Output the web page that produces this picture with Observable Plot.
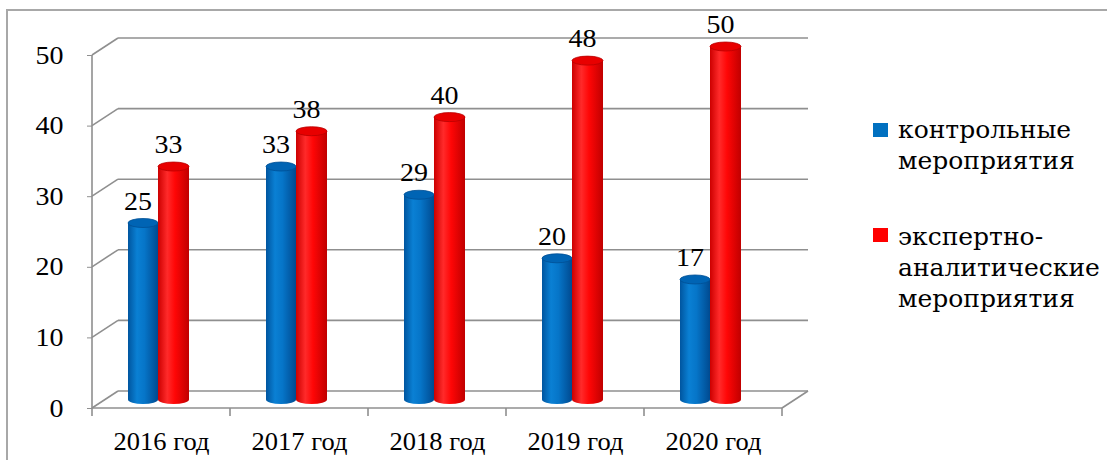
<!DOCTYPE html>
<html><head><meta charset="utf-8">
<script src="https://cdn.jsdelivr.net/npm/d3@7"></script>
<script src="https://cdn.jsdelivr.net/npm/@observablehq/plot@0.6"></script>
<style>
html,body{margin:0;padding:0;background:#fff;}
#chart svg{display:block;}
</style></head><body><div id="chart"></div>
<script>
const years = ["2016 год","2017 год","2018 год","2019 год","2020 год"];
const control = [25, 33, 29, 20, 17];
const expert = [33, 38, 40, 48, 50];
const yTicks = [0, 10, 20, 30, 40, 50];
const legendLines = [["контрольные", "мероприятия"], ["экспертно-", "аналитические", "мероприятия"]];
const colors = ["#0070C0", "#FF0000"];

const data = years.flatMap((y, i) => [
  {year: y, series: 0, value: control[i]},
  {year: y, series: 1, value: expert[i]}
]);

const FONT = "'Liberation Serif', 'DejaVu Serif', serif";
const STRETCH = 1.12;
const DEPTH_X = 26, DEPTH_Y = -17;
const BAR_DY = -8.5;
const BAR_IN = [[36, 66], [66, 97]];
const GRID = "#8f8f8f";

function make(tag, attrs, parent) {
  const el = document.createElementNS("http://www.w3.org/2000/svg", tag);
  for (const k in attrs) el.setAttribute(k, attrs[k]);
  if (parent) parent.appendChild(el);
  return el;
}

function walls(index, scales, values, dim) {
  const g = make("g", {fill: "none", stroke: GRID, "stroke-width": 1.6});
  const x0 = dim.marginLeft, x1 = dim.width - dim.marginRight;
  const bw = scales.x(years[1]) - scales.x(years[0]);
  make("path", {d: `M7,${dim.height} V10 H${dim.width}`, stroke: "#a8a8a8", "stroke-width": 2}, g);
  for (const t of yTicks) {
    const y = scales.y(t);
    make("line", {x1: x0 + DEPTH_X, x2: x1 + DEPTH_X, y1: y + DEPTH_Y, y2: y + DEPTH_Y}, g);
    make("line", {x1: x0, x2: x0 + DEPTH_X, y1: y, y2: y + DEPTH_Y}, g);
  }
  const yb = scales.y(0);
  make("line", {x1: x0, x2: x0, y1: scales.y(yTicks[yTicks.length - 1]), y2: yb}, g);
  make("line", {x1: x0, x2: x1, y1: yb, y2: yb}, g);
  make("line", {x1: x1, x2: x1 + DEPTH_X, y1: yb, y2: yb + DEPTH_Y}, g);
  const edges = years.map(d => scales.x(d)).concat([scales.x(years[years.length - 1]) + bw]);
  for (const e of edges) make("line", {x1: e, x2: e, y1: yb, y2: yb + 8}, g);
  return g;
}

function cylinders(index, scales, values, dim) {
  const g = make("g", {});
  const defs = make("defs", {}, g);
  const stops = [
    [["0%", "#00559f"], ["30%", "#0a80d4"], ["55%", "#0675c8"], ["100%", "#004a90"]],
    [["0%", "#cc0000"], ["30%", "#ff2a2a"], ["55%", "#ff0606"], ["100%", "#c00000"]]
  ];
  const tops = ["#0064b4", "#e80000"];
  const rims = ["#004f94", "#b80000"];
  stops.forEach((s, i) => {
    const lg = make("linearGradient", {id: "cyl" + i, x1: "0", x2: "1", y1: "0", y2: "0"}, defs);
    s.forEach(([o, c]) => make("stop", {offset: o, "stop-color": c}, lg));
  });
  for (const d of data) {
    const bx = scales.x(d.year);
    const [a, b] = BAR_IN[d.series];
    const xl = bx + a, xr = bx + b, cx = (xl + xr) / 2, rx = (xr - xl) / 2;
    const ry = 4.5;
    const yt = scales.y(d.value) + BAR_DY, yb = scales.y(0) + BAR_DY;
    const fill = `url(#cyl${d.series})`;
    make("ellipse", {cx, cy: yb, rx, ry, fill}, g);
    make("rect", {x: xl, y: yt, width: xr - xl, height: yb - yt, fill}, g);
    make("ellipse", {cx, cy: yt, rx, ry, fill: tops[d.series], stroke: rims[d.series], "stroke-width": 0.8}, g);
  }
  return g;
}

function legend(index, scales, values, dim) {
  const g = make("g", {class: "leg"});
  const starts = [138, 245];
  const boxes = [123, 228];
  legendLines.forEach((lines, i) => {
    make("rect", {x: 873, y: boxes[i], width: 15, height: 14, fill: colors[i]}, g);
    lines.forEach((ln, j) => {
      const t = make("text", {
        x: 898, y: starts[i] + j * 31,
        "font-family": "DejaVu Serif", "font-size": 25, "text-anchor": "start", fill: "#000"
      }, g);
      t.textContent = ln;
    });
  });
  return g;
}

const chart = Plot.plot({
  width: 1107,
  height: 460,
  marginLeft: 92,
  marginRight: 325,
  marginTop: 55,
  marginBottom: 52,
  style: {fontFamily: FONT, fontSize: "25px", color: "#000", background: "#fff"},
  x: {type: "band", domain: years, padding: 0, axis: null, label: null},
  y: {domain: [0, 50], axis: null, label: null},
  marks: [
    walls,
    cylinders,
    Plot.text(data.filter(d => d.series === 0), {
      x: "year", y: "value", text: "value", lineAnchor: "bottom", fontSize: 25,
      dx: (BAR_IN[0][0] + BAR_IN[0][1]) / 2 - 69 - 5.5, dy: BAR_DY - 14
    }),
    Plot.text(data.filter(d => d.series === 1), {
      x: "year", y: "value", text: "value", lineAnchor: "bottom", fontSize: 25,
      dx: (BAR_IN[1][0] + BAR_IN[1][1]) / 2 - 69 - 5.5, dy: BAR_DY - 14
    }),
    Plot.axisY(yTicks, {tickSize: 5, tickPadding: 24, stroke: GRID, fontSize: 25, label: null, tickFormat: d => String(d)}),
    Plot.axisX({tickSize: 0, tickPadding: 24, fontSize: 25, label: null, className: "xlab"}),
    legend
  ]
});

chart.querySelectorAll("text").forEach(t => {
  if (t.closest(".leg")) return;
  const tr = t.getAttribute("transform") || "";
  const inX = t.closest(".xlab");
  t.setAttribute("transform", tr + ` scale(${inX ? 1.06 : STRETCH},1)`);
});
document.getElementById("chart").appendChild(chart);
</script>
</body></html>
